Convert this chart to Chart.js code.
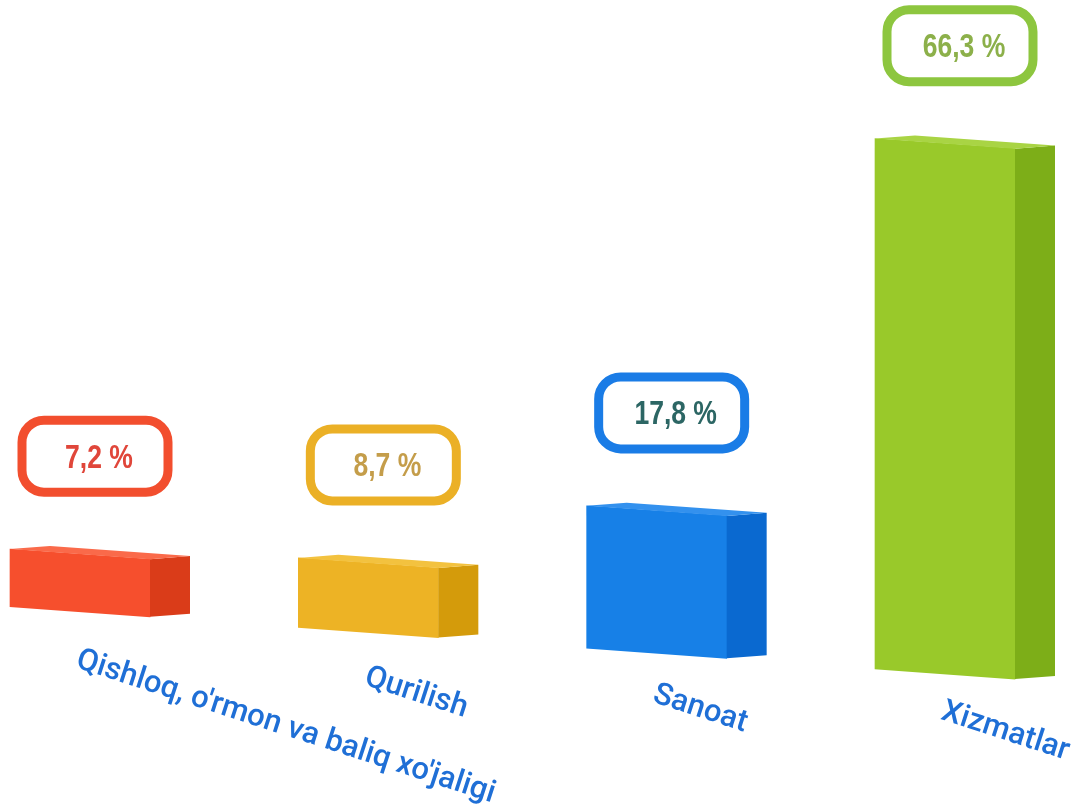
<!DOCTYPE html>
<html>
<head>
<meta charset="utf-8">
<script src="https://cdn.jsdelivr.net/npm/chart.js@4.4.0/dist/chart.umd.min.js"></script>
<style>
  html, body { margin: 0; padding: 0; background: #fff; }
  .wrap { width: 1073px; height: 806px; position: relative; }
</style>
</head>
<body>
<div class="wrap"><canvas id="bar-chart"></canvas></div>
<script>
// data
const categories = ["Qishloq, o'rmon va baliq xo'jaligi", 'Qurilish', 'Sanoat', 'Xizmatlar'];
const shares = [7.2, 8.7, 17.8, 66.3];
const yTicks = [0, 72];

// colours
const frontColors = ['#f64f2d', '#edb325', '#1780e7', '#99c92a'];
const sideColors = ['#da3c19', '#d49b0b', '#0a69d0', '#7dae18'];
const topColors = ['#fa6a4a', '#f3c23f', '#3391ee', '#a9d444'];
const boxColors = ['#f24e2e', '#ebb026', '#1a7ce6', '#8dc63f'];
const boxTextColors = ['#e0463a', '#c49d4a', '#2c6664', '#8cb04a'];

const SKEW = 0.072;   // baseline slopes down to the right
const DEPTH_X = 40;
const DEPTH_Y = 6;

function fmt(v) {
    return v.toFixed(1).replace('.', ',') + ' %';
}

const box3d = {
    id: 'box3d',
    beforeDatasetsDraw(chart) {
        const ctx = chart.ctx;
        ctx.save();
        ctx.transform(1, SKEW, 0, 1, 0, 0);
    },
    afterDatasetsDraw(chart) {
        const ctx = chart.ctx;
        const bars = chart.getDatasetMeta(0).data;
        bars.forEach(function (b, i) {
            const l = b.x - b.width / 2;
            const r = b.x + b.width / 2;
            // side face
            ctx.fillStyle = sideColors[i];
            ctx.beginPath();
            ctx.moveTo(r, b.y);
            ctx.lineTo(r + DEPTH_X, b.y - DEPTH_Y);
            ctx.lineTo(r + DEPTH_X, b.base - DEPTH_Y);
            ctx.lineTo(r, b.base);
            ctx.closePath();
            ctx.fill();
            // top face
            ctx.fillStyle = topColors[i];
            ctx.beginPath();
            ctx.moveTo(l, b.y);
            ctx.lineTo(r, b.y);
            ctx.lineTo(r + DEPTH_X, b.y - DEPTH_Y);
            ctx.lineTo(l + DEPTH_X, b.y - DEPTH_Y);
            ctx.closePath();
            ctx.fill();
        });
        ctx.restore();

        // value boxes and category labels
        bars.forEach(function (b, i) {
            const cx = b.x + 15;
            const cy = b.y + SKEW * b.x - 98;
            const w = 146, h = 72;
            ctx.save();
            ctx.beginPath();
            ctx.roundRect(cx - w / 2, cy - h / 2, w, h, 22);
            ctx.fillStyle = '#fff';
            ctx.fill();
            ctx.lineWidth = 9;
            ctx.strokeStyle = boxColors[i];
            ctx.stroke();
            // narrow bold look
            ctx.translate(cx + 4, cy + 2);
            ctx.scale(0.78, 1);
            ctx.fillStyle = boxTextColors[i];
            ctx.font = 'bold 34px "Liberation Sans", Arial, sans-serif';
            ctx.textAlign = 'center';
            ctx.textBaseline = 'middle';
            ctx.fillText(fmt(shares[i]), 0, 0);
            ctx.restore();

            ctx.save();
            ctx.translate(b.x + 2, b.base + 0.06 * b.x + 34);
            ctx.rotate(18 * Math.PI / 180);
            ctx.fillStyle = '#1f6fd6';
            ctx.font = '500 31px Roboto, sans-serif';
            ctx.textAlign = 'left';
            ctx.textBaseline = 'top';
            ctx.fillText(categories[i], 0, 0);
            ctx.restore();
        });
    }
};

const barChart = document.getElementById('bar-chart');

new Chart(barChart, {
    type: 'bar',
    data: {
        labels: categories,
        datasets: [{
            data: shares,
            backgroundColor: frontColors,
            borderWidth: 0,
            barThickness: 140,
            clip: false
        }]
    },
    options: {
        responsive: true,
        maintainAspectRatio: false,
        animation: false,
        layout: {
            padding: { left: 80, right: 128, top: 30, bottom: 200 }
        },
        plugins: {
            legend: { display: false },
            tooltip: { enabled: false }
        },
        scales: {
            x: { display: false, offset: false },
            y: { display: false, min: yTicks[0], max: yTicks[1] }
        }
    },
    plugins: [box3d]
});
</script>
</body>
</html>
